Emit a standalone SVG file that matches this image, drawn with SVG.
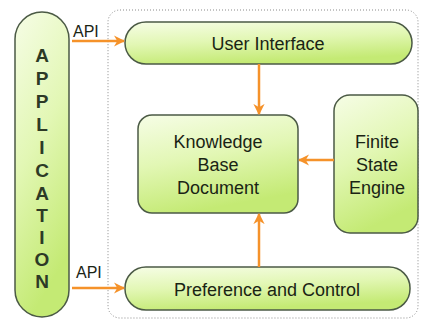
<svg xmlns="http://www.w3.org/2000/svg" width="421" height="320" viewBox="0 0 421 320">
<defs>
<linearGradient id="g" x1="0" y1="0" x2="0.3" y2="1">
<stop offset="0" stop-color="#f6fde6"/>
<stop offset="0.5" stop-color="#e2f7b4"/>
<stop offset="1" stop-color="#c4ea74"/>
</linearGradient>
<marker id="ah" viewBox="0 0 10 10" refX="9" refY="5" markerWidth="4.5" markerHeight="4.5" orient="auto">
<path d="M0,0 L10,5 L0,10 L3,5 Z" fill="#f5922a"/>
</marker>
<style>
.n{fill:url(#g);stroke:#4b5a45;stroke-width:1.5}
.t{font-family:"Liberation Sans",Arial,sans-serif;font-size:18px;fill:#1a2414;text-anchor:middle}
.a{font-family:"Liberation Sans",Arial,sans-serif;font-size:16px;fill:#1a2414}
.l{font-family:"Liberation Sans",Arial,sans-serif;font-size:19px;font-weight:bold;fill:#2d3a26;text-anchor:middle}
.c{stroke:#f5922a;stroke-width:2.5;fill:none;marker-end:url(#ah)}
</style>
</defs>
<rect id="container" x="108" y="10" width="310" height="308" rx="12" fill="none" stroke="#8a8a8a" stroke-width="1" stroke-dasharray="1,2"/>
<g id="application">
<rect class="n" x="15" y="12" width="54" height="305" rx="27"/>
<text class="l" x="42" y="62">A</text>
<text class="l" x="42" y="85">P</text>
<text class="l" x="42" y="108">P</text>
<text class="l" x="42" y="131">L</text>
<text class="l" x="42" y="154">I</text>
<text class="l" x="42" y="177">C</text>
<text class="l" x="42" y="200">A</text>
<text class="l" x="42" y="222">T</text>
<text class="l" x="42" y="244">I</text>
<text class="l" x="42" y="266">O</text>
<text class="l" x="42" y="288">N</text>
</g>
<g id="user-interface">
<rect class="n" x="125" y="22" width="287" height="42" rx="21"/>
<text class="t" x="268" y="50">User Interface</text>
</g>
<g id="knowledge-base">
<rect class="n" x="138" y="115" width="160" height="98" rx="14"/>
<text class="t" x="218" y="148">Knowledge</text>
<text class="t" x="218" y="171">Base</text>
<text class="t" x="218" y="194">Document</text>
</g>
<g id="finite-state-engine">
<rect class="n" x="334" y="95" width="84" height="138" rx="16"/>
<text class="t" x="377" y="148">Finite</text>
<text class="t" x="377" y="171">State</text>
<text class="t" x="377" y="194">Engine</text>
</g>
<g id="preference-control">
<rect class="n" x="125" y="267" width="285" height="43" rx="21"/>
<text class="t" x="267" y="296">Preference and Control</text>
</g>
<g id="connectors">
<line class="c" x1="72" y1="41" x2="124" y2="41"/>
<text class="a" x="73" y="37">API</text>
<line class="c" x1="72" y1="288" x2="124" y2="288"/>
<text class="a" x="76" y="278">API</text>
<line class="c" x1="259" y1="64" x2="259" y2="114"/>
<line class="c" x1="334" y1="160" x2="299" y2="160"/>
<line class="c" x1="259" y1="267" x2="259" y2="214"/>
</g>
</svg>
